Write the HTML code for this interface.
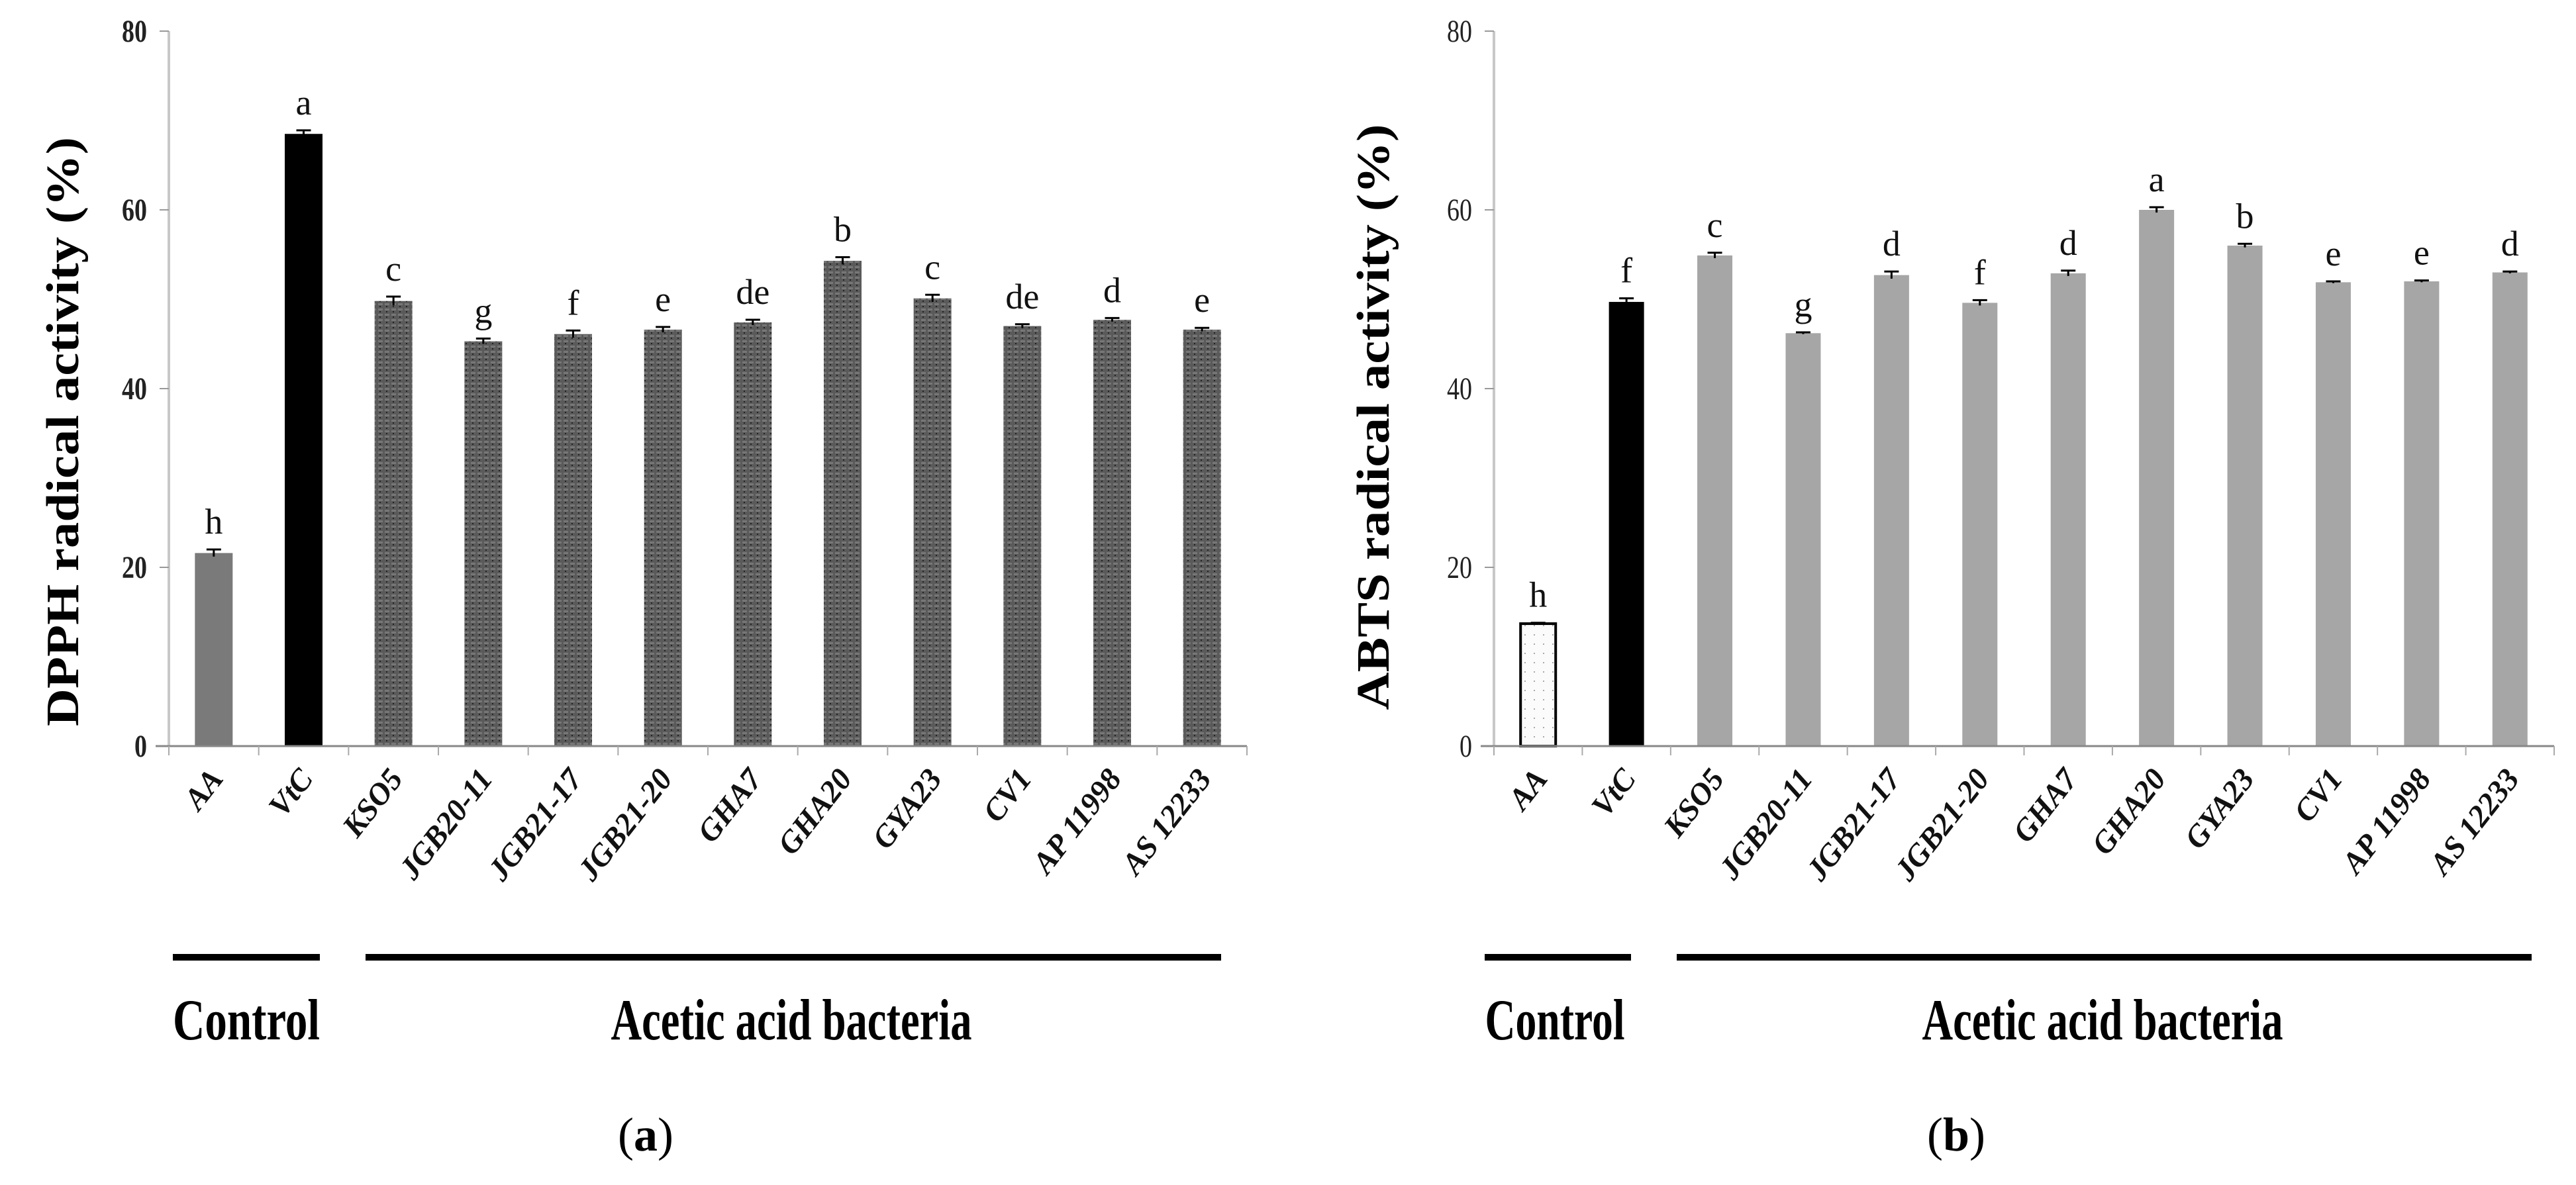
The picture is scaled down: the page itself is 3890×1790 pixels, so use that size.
<!DOCTYPE html>
<html><head><meta charset="utf-8">
<style>
html,body{margin:0;padding:0;background:#fff;}
svg{display:block;}
text{font-family:"Liberation Serif",serif;}
</style></head>
<body>
<svg id="fig" xmlns="http://www.w3.org/2000/svg" width="3890" height="1790" viewBox="0 0 3890 1790">
<defs>
<pattern id="dots" width="10" height="8" patternUnits="userSpaceOnUse">
<rect width="10" height="8" fill="#5a5a5a"/>
<rect x="1" y="2" width="7" height="3" fill="#777"/>
<rect x="3" y="6" width="2" height="2" fill="#222"/>
</pattern>
<pattern id="ldots" width="14" height="14" patternUnits="userSpaceOnUse">
<rect width="14" height="14" fill="#fbfbfb"/>
<rect x="6" y="6" width="2" height="2" fill="#aaa"/>
</pattern>
</defs>
</svg>
<script>
const categories = ["AA","VtC","KSO5","JGB20-11","JGB21-17","JGB21-20","GHA7","GHA20","GYA23","CV1","AP 11998","AS 12233"];
const dpphValues = [21.6,68.5,49.8,45.3,46.1,46.6,47.4,54.3,50.1,47.0,47.7,46.6];
const dpphErrors = [0.4,0.4,0.5,0.3,0.4,0.3,0.3,0.4,0.4,0.2,0.2,0.2];
const dpphLetters = ["h","a","c","g","f","e","de","b","c","de","d","e"];
const abtsValues = [13.7,49.7,54.9,46.2,52.7,49.6,52.9,60.0,56.0,51.9,52.0,53.0];
const abtsErrors = [0.1,0.4,0.3,0.1,0.4,0.3,0.3,0.3,0.2,0.1,0.1,0.1];
const abtsLetters = ["h","f","c","g","d","f","d","a","b","e","e","d"];
const yTicks = [0,20,40,60,80];

const NS="http://www.w3.org/2000/svg";
const svg=document.getElementById('fig');
function mk(tag,attrs,parent){const e=document.createElementNS(NS,tag);for(const k in attrs)e.setAttribute(k,attrs[k]);(parent||svg).appendChild(e);return e;}

function drawChart(cfg){
  const g=mk('g',{});
  
  
  const x0=cfg.x0,x1=cfg.x1,yTop=47,yZero=1127,vMax=80;
  const yS=v=>yZero-(v/vMax)*(yZero-yTop);
  const cw=(x1-x0)/categories.length;
  const xC=i=>x0+cw*(i+0.5);
  const ya=mk('line',{x1:x0,y1:yTop,x2:x0,y2:yZero,stroke:'#c8c8c8','stroke-width':4},g);
  
  
  yTicks.forEach(t=>{
    const y=yS(t);
    mk('line',{x1:x0-14,y1:y,x2:x0,y2:y,stroke:'#999','stroke-width':2},g);
    const tl=mk('text',{x:x0-33,y:y+16,'text-anchor':'end','font-size':48,'font-weight':cfg.boldTicks?'bold':'normal',textLength:String(t).length*19,lengthAdjust:'spacingAndGlyphs',fill:'#222'},g);
    tl.textContent=t;
    
    
  });
  const yt=mk('text',{x:0,y:0,transform:`translate(${cfg.titleX},${cfg.titleY}) rotate(-90)`,'text-anchor':'middle','font-size':70,'font-weight':'bold',textLength:cfg.titleLen,lengthAdjust:'spacingAndGlyphs',fill:'#000'},g);
  yt.textContent=cfg.title;
  
  
  cfg.values.forEach((v,i)=>{
    const cx=xC(i),w=cfg.barW,top=yS(v);
    let fill=cfg.fills[Math.min(i,2)];
    const b=mk('rect',{x:cx-w/2,y:top,width:w,height:yZero-top,fill:fill},g);
    if(i===0&&cfg.aaStroke){b.setAttribute('stroke','#000');b.setAttribute('stroke-width',4);}
    
    
    const e=cfg.errors[i],yh=yS(v+e),yl=yS(v-e);
    mk('line',{x1:cx,y1:yh,x2:cx,y2:yl,stroke:'#000','stroke-width':3},g);
    mk('line',{x1:cx-11,y1:yh,x2:cx+11,y2:yh,stroke:'#000','stroke-width':3},g);
    const lt=mk('text',{x:cx,y:yh-24,'text-anchor':'middle','font-size':54,fill:'#111'},g);
    lt.textContent=cfg.letters[i];
    
    
    const cl=mk('text',{x:0,y:0,transform:`translate(${cx+16},${yZero+50}) rotate(-52)`,'text-anchor':'end','font-size':47,'font-weight':'bold','font-style':'italic',fill:'#111'},g);
    cl.textContent=categories[i];
    
    
  });
  const xa=mk('line',{x1:x0-20,y1:yZero,x2:x1,y2:yZero,stroke:'#888','stroke-width':3},g);
  
  
  for(let i=0;i<=categories.length;i++){
    mk('line',{x1:x0+cw*i,y1:yZero,x2:x0+cw*i,y2:yZero+14,stroke:'#aaa','stroke-width':2},g);
  }
  const l1=mk('rect',{x:cfg.ctrl[0],y:1441,width:cfg.ctrl[1]-cfg.ctrl[0],height:10,fill:'#000'},g);
  
  
  const l2=mk('rect',{x:cfg.aab[0],y:1441,width:cfg.aab[1]-cfg.aab[0],height:10,fill:'#000'},g);
  
  
  const t1=mk('text',{x:cfg.ctrlText[0],y:1570,'text-anchor':'middle','font-size':88,'font-weight':'bold',textLength:cfg.ctrlText[1],lengthAdjust:'spacingAndGlyphs',fill:'#000'},g);
  t1.textContent='Control';
  
  
  const t2=mk('text',{x:cfg.aabText,y:1570,'text-anchor':'middle','font-size':88,'font-weight':'bold',textLength:545,lengthAdjust:'spacingAndGlyphs',fill:'#000'},g);
  t2.textContent='Acetic acid bacteria';
  
  
  const pl=mk('text',{x:cfg.panelX,y:1738,'text-anchor':'middle','font-size':72,fill:'#000'},g);
  pl.innerHTML='(<tspan font-weight="bold">'+cfg.panel+'</tspan>)';
  
  
}

drawChart({name:'dpph-chart',x0:255,x1:1883,barW:57,values:dpphValues,errors:dpphErrors,letters:dpphLetters,
  fills:['#7a7a7a','#000','url(#dots)'],boldTicks:true,aaStroke:false,
  title:'DPPH radical activity (%)',titleX:118,titleY:652,titleLen:890,
  ctrl:[261,483],aab:[552,1844],ctrlText:[372,222],aabText:1195,panelX:975,panel:'a'});
drawChart({name:'abts-chart',x0:2256,x1:3857,barW:53,values:abtsValues,errors:abtsErrors,letters:abtsLetters,
  fills:['url(#ldots)','#000','#a6a6a6'],boldTicks:false,aaStroke:true,
  title:'ABTS radical activity (%)',titleX:2097,titleY:630,titleLen:885,
  ctrl:[2242,2463],aab:[2532,3823],ctrlText:[2348,211],aabText:3175,panelX:2954,panel:'b'});
</script>
</body></html>
